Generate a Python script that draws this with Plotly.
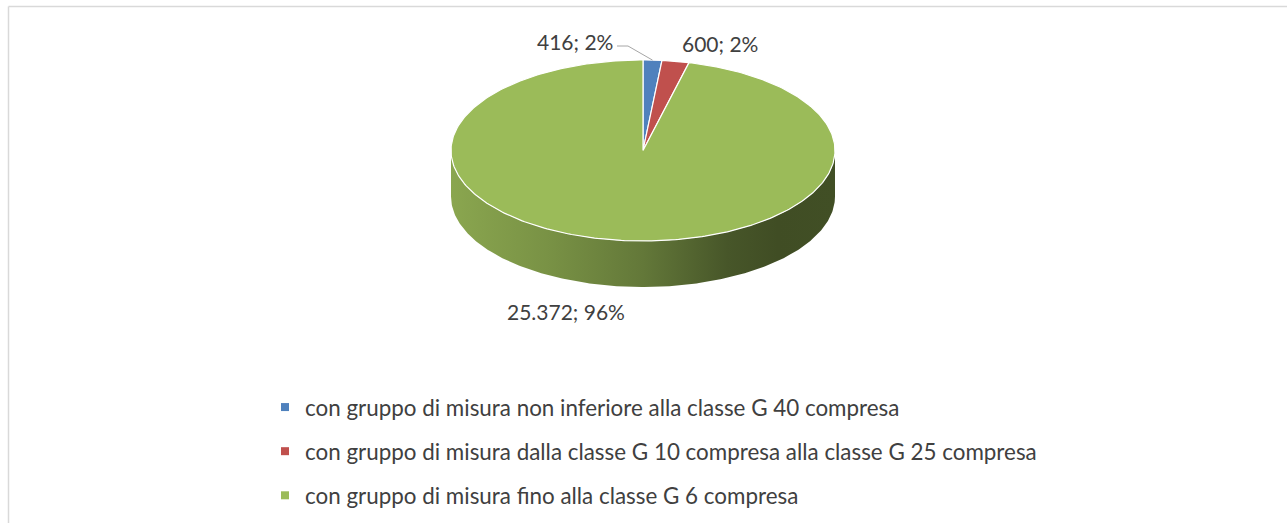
import numpy as np
import plotly.graph_objects as go

# ---------------- data ----------------
categories = [
    "con gruppo di misura non inferiore alla classe G 40 compresa",
    "con gruppo di misura dalla classe G 10 compresa alla classe G 25 compresa",
    "con gruppo di misura fino alla classe G 6 compresa",
]
values = [416, 600, 25372]
colors = ["#4F81BD", "#C0504D", "#9BBB59"]

# ---------------- layout / geometry (style) ----------------
W, H = 1287, 523
CX, CY, RX, RY, DEPTH = 643.0, 150.5, 192.0, 90.5, 46.0
FONT = "Lato"
TXT = "#404040"
label_pos = [(575, 41), (720, 43), (566, 311)]
shade_stops = [(0.0, 0.89), (0.25, 0.78), (0.5, 0.64), (0.72, 0.46), (0.85, 0.41), (1.0, 0.42)]

total = float(sum(values))
fracs = [v / total for v in values]
bounds = np.concatenate([[0.0], np.cumsum(fracs)]) * 2 * np.pi


def pt(theta, dy=0.0):
    theta = np.asarray(theta)
    return CX + RX * np.sin(theta), CY - RY * np.cos(theta) + dy


def hex2rgb(h):
    h = h.lstrip("#")
    return tuple(int(h[i:i + 2], 16) for i in (0, 2, 4))


def shade(h, f):
    r, g, b = hex2rgb(h)
    return "rgb(%d,%d,%d)" % (round(r * f), round(g * f), round(b * f))


fig = go.Figure()

# side wall (front half of the cylinder)
for i, v in enumerate(values):
    a = max(bounds[i], np.pi / 2)
    b = min(bounds[i + 1], 3 * np.pi / 2)
    if b <= a:
        continue
    t = np.linspace(a, b, 240)
    xt, yt = pt(t)
    xb, yb = pt(t[::-1], DEPTH)
    fig.add_trace(go.Scatter(
        x=np.concatenate([xt, xb, xt[:1]]),
        y=np.concatenate([yt, yb, yt[:1]]),
        mode="lines", fill="toself", line=dict(width=0),
        fillgradient=dict(type="horizontal",
                          colorscale=[[s, shade(colors[i], f)] for s, f in shade_stops]),
        hoverinfo="skip", showlegend=False,
    ))

# top face wedges
for i, v in enumerate(values):
    t = np.linspace(bounds[i], bounds[i + 1], max(8, int(400 * fracs[i])))
    xs, ys = pt(t)
    fig.add_trace(go.Scatter(
        x=np.concatenate([[CX], xs, [CX]]),
        y=np.concatenate([[CY], ys, [CY]]),
        mode="lines", fill="toself", fillcolor=colors[i],
        line=dict(color="white", width=1.2),
        name=categories[i], hoverinfo="name", showlegend=False,
    ))

# legend entries
for i, c in enumerate(categories):
    fig.add_trace(go.Scatter(
        x=[None], y=[None], mode="markers", name=c, legendgroup=str(i),
        marker=dict(symbol="square", size=8, color=colors[i]),
    ))

# data labels
annotations = []
for i, v in enumerate(values):
    txt = "{:,}".format(v).replace(",", ".") + "; " + "{:d}%".format(int(round(100 * fracs[i])))
    x, y = label_pos[i]
    annotations.append(dict(x=x, y=y, xref="x", yref="y", text=txt, showarrow=False,
                            font=dict(family=FONT, size=21, color=TXT),
                            xanchor="center", yanchor="middle"))

# leader line for the first (smallest) slice
mid0 = (bounds[0] + bounds[1]) / 2
ex, ey = pt(mid0)
fig.add_trace(go.Scatter(x=[617, 628, float(ex)], y=[46, 46, float(ey)], mode="lines",
                         line=dict(color="#A6A6A6", width=1), hoverinfo="skip", showlegend=False))

border = dict(color="#D9D9D9", width=1.5)
fig.update_layout(
    width=W, height=H, margin=dict(l=0, r=0, t=0, b=0),
    paper_bgcolor="white", plot_bgcolor="white",
    xaxis=dict(range=[0, W], visible=False, fixedrange=True),
    yaxis=dict(range=[H, 0], visible=False, fixedrange=True),
    annotations=annotations,
    showlegend=True,
    legend=dict(x=265 / W, y=1 - 386 / H, xanchor="left", yanchor="top",
                font=dict(family=FONT, size=22.4, color=TXT),
                tracegroupgap=12, bgcolor="rgba(0,0,0,0)", itemwidth=30),
    shapes=[
        dict(type="line", xref="x", yref="y", x0=8.5, x1=W + 20,
             y0=6.5, y1=6.5, line=border, layer="below"),
        dict(type="line", xref="x", yref="y", x0=8.5, x1=8.5,
             y0=6.5, y1=H + 20, line=border, layer="below"),
    ],
)

fig.write_html(
    "out.html",
    config={"displayModeBar": False},
    post_script=("document.documentElement.style.overflow='hidden';"
                 "document.body.style.margin='0';document.body.style.overflow='hidden';"),
)
